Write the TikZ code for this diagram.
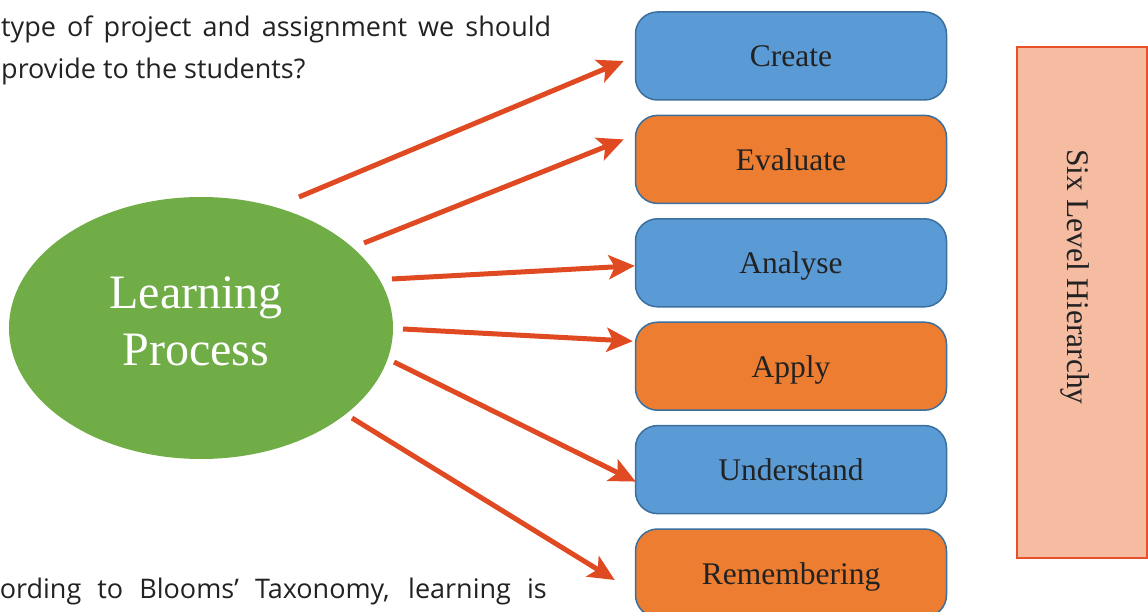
\documentclass[tikz,border=0pt]{standalone}
\usepackage{fontspec}
\setmainfont{Liberation Serif}
\newfontfamily\pagefont{Open Sans}
\usepackage{tikz}
\usetikzlibrary{arrows.meta,shapes.geometric}

\definecolor{levelblue}{HTML}{5B9BD5}
\definecolor{levelorange}{HTML}{ED7D31}
\definecolor{levelline}{HTML}{3A6F9E}
\definecolor{hubgreen}{HTML}{70AD47}
\definecolor{arrowred}{HTML}{E04A22}
\definecolor{peach}{HTML}{F5BCA2}
\definecolor{peachline}{HTML}{E8502A}
\definecolor{inkgray}{HTML}{222222}

\begin{document}
\begin{tikzpicture}[x=1pt, y=1pt,
  level/.style={draw=levelline, line width=1.5pt, rounded corners=22pt,
    minimum width=311pt, minimum height=88pt, inner sep=0pt,
    font=\fontsize{31.5}{36}\selectfont, text=inkgray,
    text height=22pt, text depth=0pt},
  flow/.style={draw=arrowred, line width=5pt,
    -{Stealth[length=26pt, width=24pt, inset=6pt]}},
  pagetext/.style={inner sep=0pt, text=inkgray,
    font=\pagefont\fontsize{27}{42}\selectfont}]
  \useasboundingbox (0,0) rectangle (1148,611);
  \clip (0,0) rectangle (1148,611);

  % surrounding page text
  \node[pagetext, anchor=base west] (pline1) at (1,574)
    {\makebox[550pt][s]{type of project and assignment we should}};
  \node[pagetext, anchor=base west] (pline2) at (1,532) {provide to the students?};
  \node[pagetext, anchor=base east] (pline3) at (547,13)
    {\makebox[547pt][s]{ording to Blooms’ Taxonomy, learning is}};

  % central ellipse
  \node[ellipse, fill=hubgreen, minimum width=384pt, minimum height=262pt,
    inner sep=0pt] (hub) at (201,283) {};
  \node[text=white, align=center, font=\fontsize{48}{57}\selectfont]
    (hublabel) at (196,290) {Learning\\Process};

  % six levels
  \node[level, fill=levelblue]   (create)     at (791,555)   {Create};
  \node[level, fill=levelorange] (evaluate)   at (791,451.6) {Evaluate};
  \node[level, fill=levelblue]   (analyse)    at (791,348.2) {Analyse};
  \node[level, fill=levelorange] (apply)      at (791,244.8) {Apply};
  \node[level, fill=levelblue]   (understand) at (791,141.4) {Understand};
  \node[level, fill=levelorange] (remember)   at (791,38)    {Remembering};

  % side bar
  \node[draw=peachline, fill=peach, line width=1.2pt, minimum width=130pt,
    minimum height=511pt, inner sep=0pt] (hier) at (1082,308.5) {};
  \node[rotate=-90, text=inkgray, font=\fontsize{31.5}{36}\selectfont]
    (hierlabel) at (1075,334) {Six Level Hierarchy};

  % arrows
  \coordinate (s1) at (299,414);
  \coordinate (s2) at (364,368);
  \coordinate (s3) at (392,332);
  \coordinate (s4) at (403,282);
  \coordinate (s5) at (394,249);
  \coordinate (s6) at (352,193);
  \draw[flow] (s1) -- ([shift={(-11,-5)}]create.west);
  \draw[flow] (s2) -- ([shift={(-11,20)}]evaluate.west);
  \draw[flow] (s3) -- ([shift={(0,-3)}]analyse.west);
  \draw[flow] (s4) -- ([shift={(-2,25)}]apply.west);
  \draw[flow] (s5) -- ([shift={(1,-12)}]understand.west);
  \draw[flow] (s6) -- ([shift={(-20,-7)}]remember.west);
\end{tikzpicture}
\end{document}
